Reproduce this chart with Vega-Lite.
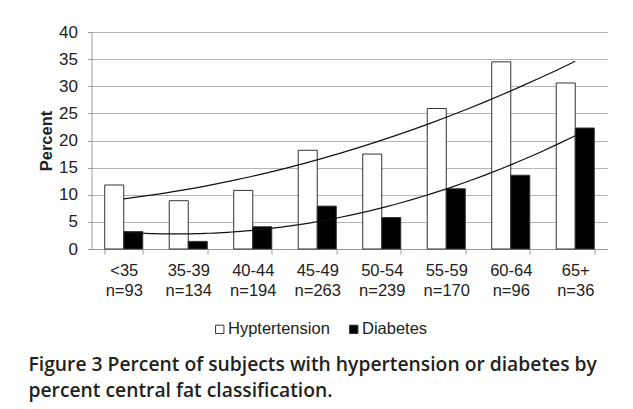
{
  "$schema": "https://vega.github.io/schema/vega-lite/v6.json",
  "autosize": {"type": "none"},
  "width": 516,
  "height": 217,
  "padding": {"left": 91.5, "top": 32, "right": 25.5, "bottom": 160},
  "background": "white",
  "config": {
    "view": {"stroke": null},
    "font": "Liberation Sans",
    "axis": {"labelFont": "Liberation Sans", "titleFont": "Liberation Sans", "labelColor": "#222", "titleColor": "#222"}
  },
  "title": {
    "text": ["Figure 3 Percent of subjects with hypertension or diabetes by", "percent central fat classification."],
    "orient": "bottom",
    "anchor": "start",
    "frame": "group",
    "dx": -63,
    "offset": 18,
    "font": "Open Sans",
    "fontSize": 19.3,
    "fontWeight": 600,
    "lineHeight": 26,
    "color": "#231f20"
  },
  "data": {
    "values": [
      {"cat": "<35|n=93", "i": 1, "series": "Hyptertension", "pct": 11.8},
      {"cat": "<35|n=93", "i": 1, "series": "Diabetes", "pct": 3.2},
      {"cat": "35-39|n=134", "i": 2, "series": "Hyptertension", "pct": 8.9},
      {"cat": "35-39|n=134", "i": 2, "series": "Diabetes", "pct": 1.4},
      {"cat": "40-44|n=194", "i": 3, "series": "Hyptertension", "pct": 10.8},
      {"cat": "40-44|n=194", "i": 3, "series": "Diabetes", "pct": 4.1},
      {"cat": "45-49|n=263", "i": 4, "series": "Hyptertension", "pct": 18.2},
      {"cat": "45-49|n=263", "i": 4, "series": "Diabetes", "pct": 7.9},
      {"cat": "50-54|n=239", "i": 5, "series": "Hyptertension", "pct": 17.5},
      {"cat": "50-54|n=239", "i": 5, "series": "Diabetes", "pct": 5.8},
      {"cat": "55-59|n=170", "i": 6, "series": "Hyptertension", "pct": 25.9},
      {"cat": "55-59|n=170", "i": 6, "series": "Diabetes", "pct": 11.1},
      {"cat": "60-64|n=96", "i": 7, "series": "Hyptertension", "pct": 34.5},
      {"cat": "60-64|n=96", "i": 7, "series": "Diabetes", "pct": 13.6},
      {"cat": "65+|n=36", "i": 8, "series": "Hyptertension", "pct": 30.6},
      {"cat": "65+|n=36", "i": 8, "series": "Diabetes", "pct": 22.3}
    ]
  },
  "encoding": {
    "y": {
      "field": "pct",
      "type": "quantitative",
      "scale": {"domain": [0, 40], "nice": false},
      "axis": {
        "title": "Percent",
        "titleFontSize": 16.5,
        "titleFontWeight": "bold",
        "titlePadding": 4,
        "values": [0, 5, 10, 15, 20, 25, 30, 35, 40],
        "labelOverlap": false,
        "labelFontSize": 17,
        "labelPadding": 10,
        "tickSize": 4,
        "tickColor": "#999",
        "domainColor": "#999",
        "gridColor": "#b5b5b5",
        "gridWidth": 1
      }
    }
  },
  "layer": [
    {
      "mark": {"type": "bar", "stroke": "#333", "strokeWidth": 1},
      "encoding": {
        "x": {
          "field": "cat",
          "type": "nominal",
          "sort": null,
          "scale": {"paddingInner": 0.41, "paddingOuter": 0.205},
          "axis": {
            "title": null,
            "labelExpr": "isString(datum.value) ? split(datum.value, '|') : ''",
            "labelAngle": 0,
            "labelFontSize": 16.5,
            "labelLineHeight": 20,
            "labelPadding": 8,
            "tickBand": "extent",
            "tickSize": 5,
            "tickColor": "#999",
            "domainColor": "#999",
            "grid": false
          }
        },
        "xOffset": {"field": "series", "type": "nominal", "sort": ["Hyptertension", "Diabetes"]},
        "color": {
          "field": "series",
          "type": "nominal",
          "scale": {"domain": ["Hyptertension", "Diabetes"], "range": ["white", "black"]},
          "legend": {
            "title": null,
            "orient": "none",
            "direction": "horizontal",
            "legendX": 120,
            "legendY": 289,
            "symbolType": "square",
            "symbolSize": 70,
            "symbolStrokeColor": "#333",
            "symbolStrokeWidth": 1,
            "symbolOpacity": 1,
            "labelFontSize": 16.5,
            "labelFont": "Liberation Sans",
            "labelColor": "#222",
            "labelOffset": 0,
            "columnPadding": 15
          }
        }
      }
    },
    {
      "transform": [
        {"regression": "pct", "on": "i", "groupby": ["series"], "method": "poly", "order": 2}
      ],
      "mark": {"type": "line", "color": "#111", "strokeWidth": 1.2},
      "encoding": {
        "x": {"field": "i", "type": "quantitative", "scale": {"domain": [0.5, 8.5], "nice": false, "zero": false}, "axis": null},
        "detail": {"field": "series", "type": "nominal"}
      }
    }
  ],
  "resolve": {"scale": {"x": "independent"}}
}
